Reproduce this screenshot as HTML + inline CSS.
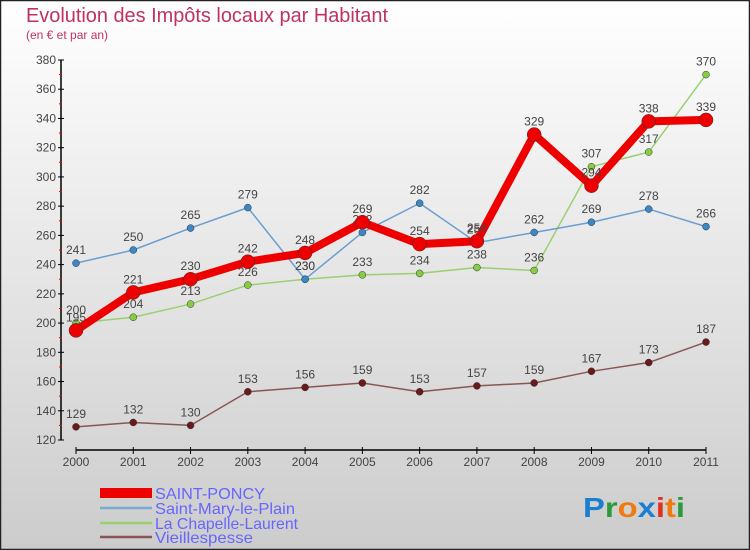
<!DOCTYPE html>
<html><head><meta charset="utf-8"><style>
body{margin:0;}
#c{width:750px;height:550px;position:relative;overflow:hidden;font-family:"Liberation Sans",sans-serif;}
</style></head><body>
<div id="c">
<svg id="s" width="750" height="550" xmlns="http://www.w3.org/2000/svg">
<defs><linearGradient id="bg" x1="0" y1="0" x2="0" y2="1"><stop offset="0" stop-color="#ffffff"/><stop offset="1" stop-color="#cccccc"/></linearGradient></defs>
<rect x="0.5" y="0.5" width="749" height="549" fill="url(#bg)" stroke="#222" stroke-width="1.5"/>
<text x="26" y="22" font-size="20" fill="#c0325e" textLength="362" lengthAdjust="spacingAndGlyphs">Evolution des Impôts locaux par Habitant</text>
<text x="26" y="39" font-size="12" fill="#c0325e">(en € et par an)</text>
<g id="g"></g>
<g>
<rect x="100" y="488" width="52" height="10" fill="#e00"/>
<text x="155" y="499" font-size="16" fill="#6666ff" textLength="110" lengthAdjust="spacingAndGlyphs">SAINT-PONCY</text>
<line x1="100" y1="508" x2="152" y2="508" stroke="#7aaad0" stroke-width="2.5"/>
<text x="155" y="514" font-size="16" fill="#6666ff" textLength="140" lengthAdjust="spacingAndGlyphs">Saint-Mary-le-Plain</text>
<line x1="100" y1="523" x2="152" y2="523" stroke="#99d070" stroke-width="2.5"/>
<text x="155" y="529" font-size="16" fill="#6666ff" textLength="143" lengthAdjust="spacingAndGlyphs">La Chapelle-Laurent</text>
<line x1="100" y1="537" x2="152" y2="537" stroke="#8a5555" stroke-width="2.5"/>
<text x="155" y="543" font-size="16" fill="#6666ff" textLength="98" lengthAdjust="spacingAndGlyphs">Vieillespesse</text>
</g>
<text x="583" y="517" font-size="28" font-weight="bold" textLength="102" lengthAdjust="spacingAndGlyphs"><tspan fill="#1a7fd0">P</tspan><tspan fill="#2a9a3a">r</tspan><tspan fill="#f07a10">o</tspan><tspan fill="#1a7fd0">x</tspan><tspan fill="#e03020">i</tspan><tspan fill="#f07a10">t</tspan><tspan fill="#2a9a3a">i</tspan></text>
</svg>
</div>
<script>
const years=[2000,2001,2002,2003,2004,2005,2006,2007,2008,2009,2010,2011];
const yTicks=[120,140,160,180,200,220,240,260,280,300,320,340,360,380];
const saintPoncy=[195,221,230,242,248,269,254,256,329,294,338,339];
const saintMary=[241,250,265,279,230,262,282,255,262,269,278,266];
const chapelle=[200,204,213,226,230,233,234,238,236,307,317,370];
const vieille=[129,132,130,153,156,159,153,157,159,167,173,187];
const NS="http://www.w3.org/2000/svg";
const g=document.getElementById('g');
const X=i=>76+i*(630/11);
const Y=v=>440-(v-120)*(380/260);
function mk(t,a,p){const e=document.createElementNS(NS,t);for(const k in a)e.setAttribute(k,a[k]);(p||g).appendChild(e);return e;}
let ax=mk('line',{x1:61,y1:60,x2:61,y2:440,stroke:'#000','stroke-width':1.5});


let xa=mk('line',{x1:76,y1:450,x2:706,y2:450,stroke:'#000','stroke-width':1.5});


yTicks.forEach((v,i)=>{
 mk('line',{x1:58,y1:Y(v),x2:64,y2:Y(v),stroke:'#000'});
 if(i<yTicks.length-1)mk('line',{x1:59,y1:Y(v+10),x2:62,y2:Y(v+10),stroke:'#e00'});
 const t=mk('text',{x:56,y:Y(v)+4,'font-size':12,fill:'#444','text-anchor':'end'});
 t.textContent=v;
 
 
});
years.forEach((yr,i)=>{
 mk('line',{x1:X(i),y1:447,x2:X(i),y2:454,stroke:'#000'});
 const t=mk('text',{x:X(i),y:466,'font-size':12,fill:'#444','text-anchor':'middle'});
 t.textContent=yr;
 
 
});
function series(d,col,w,r,fill,name){
 const sg=mk('g',{});
 
 
 mk('polyline',{points:d.map((v,i)=>X(i)+','+Y(v)).join(' '),fill:'none',stroke:col,'stroke-width':w,'stroke-linejoin':'round'},sg);
 d.forEach((v,i)=>{
  const c=mk('circle',{cx:X(i),cy:Y(v),r:r,fill:fill,stroke:'#333','stroke-width':0.5},sg);
  
  
  const t=mk('text',{x:X(i),y:Y(v)-9,'font-size':12,fill:'#444','text-anchor':'middle'},sg);
  t.textContent=v;
 });
}
series(vieille,'#8a5555',1.5,3.5,'#6a1a1a','vieillespesse');
series(chapelle,'#99d070',1.5,3.5,'#88cc44','la-chapelle-laurent');
series(saintMary,'#6a9ed0',1.5,3.5,'#3a88c8','saint-mary-le-plain');
series(saintPoncy,'#ee0000',8,7,'#ee0000','saint-poncy');
</script>
</body></html>
